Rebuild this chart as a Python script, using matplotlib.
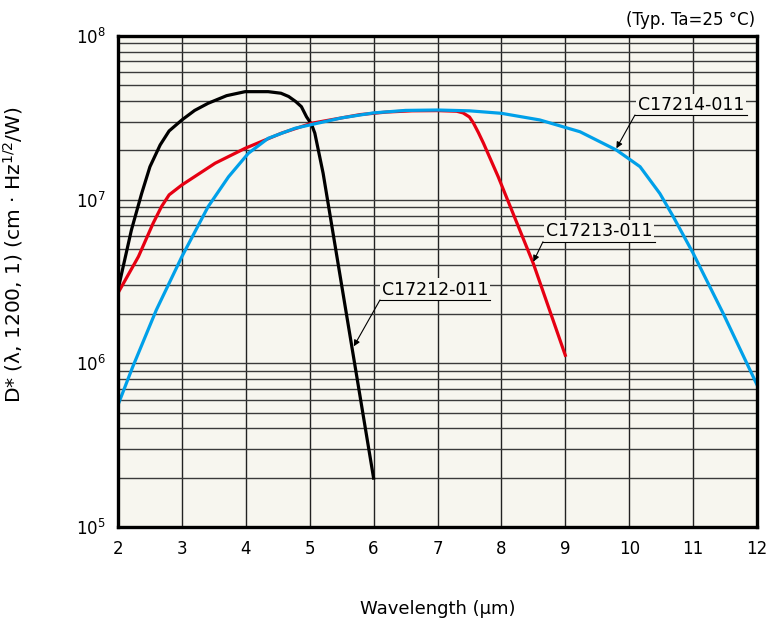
import matplotlib
matplotlib.use('Agg')
import matplotlib.pyplot as plt
import numpy as np

# Дані кривих (довжина хвилі, мкм; D*)
x_212 = [2.0, 2.21, 2.37, 2.5, 2.66, 2.8, 3.0, 3.2, 3.41, 3.7, 3.99, 4.35,
         4.55, 4.67, 4.78, 4.87, 4.95, 5.03, 5.08, 5.21, 6.0]
d_212 = [2.82e6, 6.53e6, 1.09e7, 1.59e7, 2.16e7, 2.63e7, 3.07e7, 3.51e7,
         3.88e7, 4.32e7, 4.57e7, 4.57e7, 4.47e7, 4.27e7, 3.98e7, 3.70e7,
         3.21e7, 2.88e7, 2.55e7, 1.45e7, 1.99e5]

x_213 = [2.0, 2.32, 2.55, 2.68, 2.8, 3.0, 3.52, 3.99, 4.56, 5.03, 5.5, 5.79,
         6.2, 6.6, 7.0, 7.3, 7.4, 7.5, 7.56, 7.64, 7.72, 7.95, 8.5, 9.0]
d_213 = [2.69e6, 4.49e6, 7.18e6, 9.06e6, 1.07e7, 1.23e7, 1.67e7, 2.06e7,
         2.55e7, 2.93e7, 3.16e7, 3.31e7, 3.43e7, 3.49e7, 3.50e7, 3.47e7,
         3.39e7, 3.20e7, 2.95e7, 2.57e7, 2.21e7, 1.38e7, 4.07e6, 1.12e6]

x_214 = [2.0, 2.23, 2.6, 3.0, 3.41, 3.73, 4.04, 4.35, 4.77, 5.0, 5.5, 6.0, 6.5,
         7.0, 7.5, 8.0, 8.6, 9.23, 9.8, 10.17, 10.48, 10.69, 11.0, 11.47, 12.0]
d_214 = [5.57e5, 9.51e5, 2.12e6, 4.49e6, 9.06e6, 1.38e7, 1.92e7, 2.37e7,
         2.73e7, 2.86e7, 3.16e7, 3.39e7, 3.51e7, 3.53e7, 3.49e7, 3.37e7,
         3.07e7, 2.60e7, 2.01e7, 1.59e7, 1.09e7, 7.87e6, 4.71e6, 2.02e6, 7.4e5]

bg = '#f7f6ef'

fig = plt.figure(figsize=(7.68, 6.22), dpi=100)
ax = fig.add_axes([118 / 768, 1 - 527 / 622, 639 / 768, 491 / 622])
ax.set_facecolor(bg)

ax.set_yscale('log')
ax.set_xlim(2, 12)
ax.set_ylim(1e5, 1e8)
ax.set_xticks(range(2, 13))

# Сітка
ax.grid(True, which='major', axis='x', color='#222222', lw=1.0)
ax.grid(True, which='both', axis='y', color='#3a3a3a', lw=1.0)
ax.set_axisbelow(True)

ax.plot(x_212, d_212, color='black', lw=2.3, solid_joinstyle='round')
ax.plot(x_213, d_213, color='#e60012', lw=2.3, solid_joinstyle='round')
ax.plot(x_214, d_214, color='#00a0e9', lw=2.3, solid_joinstyle='round')

for s in ax.spines.values():
    s.set_linewidth(2.4)
    s.set_zorder(5)

ax.tick_params(which='both', length=0, labelsize=12, pad=9)

# Підписи кривих
labels = [('C17214-011', 10.09, 11.84, 3.29e7, 9.80, 2.06e7),
          ('C17213-011', 8.65, 10.40, 5.53e6, 8.50, 4.18e6),
          ('C17212-011', 6.10, 7.82, 2.44e6, 5.69, 1.27e6)]
for name, x0, x1, yl, xt, yt in labels:
    ax.text((x0 + x1) / 2, yl * 1.02, name, ha='center', va='bottom',
            fontsize=12.5, zorder=4,
            bbox=dict(facecolor=bg, edgecolor='none', pad=1.5))
    ax.plot([x0, x1], [yl, yl], color='black', lw=0.8, zorder=4)
    ax.annotate('', xy=(xt, yt), xytext=(x0, yl), zorder=4,
                arrowprops=dict(arrowstyle='-|>', color='black', lw=0.8,
                                mutation_scale=9, shrinkA=0, shrinkB=0))

ax.set_xlabel('Wavelength (μm)', fontsize=13)
ax.xaxis.set_label_coords(0.5, -0.148)
ax.set_ylabel('D* (λ, 1200, 1) (cm · Hz$^{1/2}$/W)', fontsize=14.5)
ax.yaxis.set_label_coords(-0.145, 0.554)

fig.text(755 / 768, 1 - 20 / 622, '(Typ. Ta=25 °C)', ha='right', va='center',
         fontsize=12)

fig.savefig('out.png', dpi=100)
